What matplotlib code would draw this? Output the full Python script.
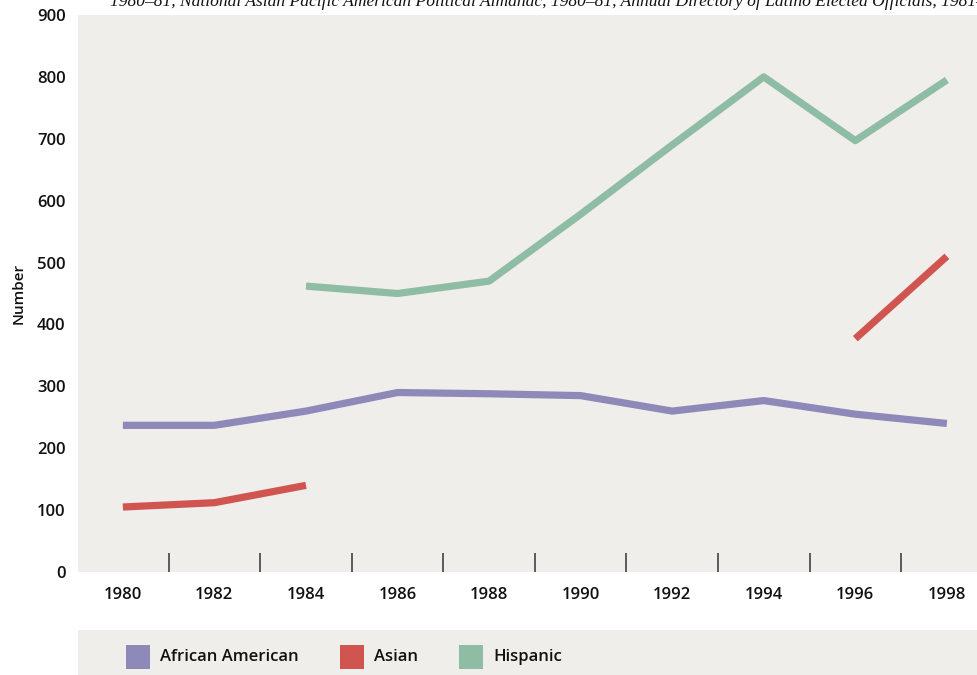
import numpy as np
import matplotlib
matplotlib.use("Agg")
import matplotlib.pyplot as plt
from matplotlib.patches import Rectangle

years = [1980, 1982, 1984, 1986, 1988, 1990, 1992, 1994, 1996, 1998]
african_american = [237, 237, 260, 290, 288, 285, 260, 277, 255, 240]
asian = [105, 112, 140, np.nan, np.nan, np.nan, np.nan, np.nan, 377, 510]
hispanic = [np.nan, np.nan, 462, 450, 470, 578, 690, 800, 697, 795]
series_names = ["African American", "Asian", "Hispanic"]
colors = ["#8e89b9", "#d05550", "#8fbca5"]
yticks = [0, 100, 200, 300, 400, 500, 600, 700, 800, 900]
minor_ticks = [1981, 1983, 1985, 1987, 1989, 1991, 1993, 1995, 1997]
source_text = ("1980\u201381, National Asian Pacific American Political Almanac, 1980\u201381, "
               "Annual Directory of Latino Elected Officials, 1981\u201398")

plt.rcParams['font.family'] = ['Open Sans', 'DejaVu Sans']

W, H = 978, 675
fig = plt.figure(figsize=(W / 100, H / 100), dpi=100)
fig.patch.set_facecolor("white")

bg = "#f0eeeb"
ax = fig.add_axes([78 / W, (H - 572) / H, 1 - 78 / W, (572 - 15) / H])
ax.set_facecolor(bg)

for vals, c in zip([african_american, asian, hispanic], colors):
    ax.plot(years, vals, color=c, lw=5.2, solid_capstyle='butt', solid_joinstyle='round')

ax.set_xlim(1979.02, 1998.68)
ax.set_ylim(0, 900)
for s in ax.spines.values():
    s.set_visible(False)

ax.set_xticks(years)
ax.set_xticklabels([str(y) for y in years], fontsize=12, fontweight='semibold', color="#111111")
ax.set_xticks(minor_ticks, minor=True)
ax.tick_params(axis='x', which='major', length=0, pad=11)
ax.tick_params(axis='x', which='minor', length=14, width=1.1, direction='in', color="#333333")
ax.set_yticks(yticks)
ax.set_yticklabels([str(v) for v in yticks], fontsize=12, fontweight='semibold', color="#111111")
ax.tick_params(axis='y', length=0, pad=9)
ax.set_ylabel("Number", fontsize=11, fontweight='semibold', labelpad=8, color="#111111")

# source text at top (partially cut in the original)
fig.text(110 / W, 1 - 2 / H, source_text, ha='left', va='center', fontsize=12.6,
         family='Liberation Serif', style='italic', color="#111111")

# legend band
fig.patches.append(Rectangle((78 / W, 0), 1 - 78 / W, (675 - 630) / H,
                             transform=fig.transFigure, facecolor=bg, edgecolor='none', zorder=0))
sq_x = [126, 340, 459]
for name, c, x in zip(series_names, colors, sq_x):
    fig.patches.append(Rectangle((x / W, (H - 669) / H), 24 / W, 24 / H,
                                 transform=fig.transFigure, facecolor=c, edgecolor='none', zorder=1))
    fig.text((x + 34) / W, (H - 657) / H, name, ha='left', va='center', fontsize=12,
             fontweight='semibold', color="#111111")

fig.savefig("out.png", dpi=100, facecolor=fig.get_facecolor())
